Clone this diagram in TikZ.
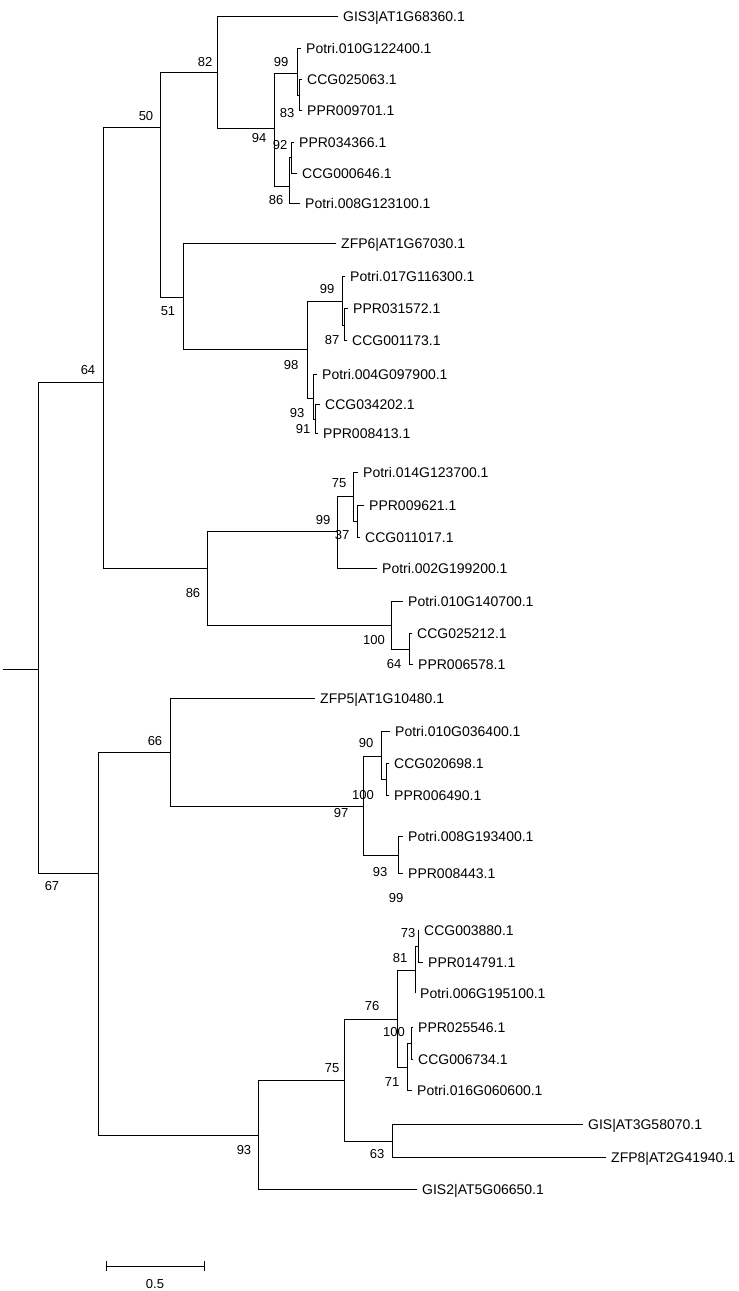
\documentclass[tikz,border=0pt]{standalone}
\usepackage{fontspec}
\setmainfont{Liberation Sans}
\begin{document}
\begin{tikzpicture}[x=1pt,y=-1pt,
  br/.style={line width=0.9pt,line cap=rect},
  leaf/.style={anchor=west,inner xsep=5pt,inner ysep=0pt,font=\fontsize{14}{16}\selectfont,text height=10pt,text depth=0pt},
  bs/.style={inner sep=0pt,font=\fontsize{13}{15}\selectfont}]
\useasboundingbox (0,0) rectangle (739,1291);
% internal nodes
\coordinate (r0) at (3,669);
\coordinate (r) at (38,669);
\coordinate (n64) at (103,382);
\coordinate (n50) at (160,127);
\coordinate (n82) at (217,72);
\coordinate (n94) at (274,128);
\coordinate (n99a) at (297,73);
\coordinate (n83) at (299,95);
\coordinate (n86b) at (289,186);
\coordinate (n92) at (291,157);
\coordinate (n51) at (183,297);
\coordinate (n98) at (307,349);
\coordinate (n99b) at (342,301);
\coordinate (n87) at (344,325);
\coordinate (n93b) at (313,398);
\coordinate (n91) at (315,419);
\coordinate (n86) at (207,568);
\coordinate (n99c) at (337,531);
\coordinate (n75a) at (353,496);
\coordinate (n37) at (357,521);
\coordinate (n100a) at (391,625);
\coordinate (n64b) at (409,649);
\coordinate (n67) at (98,873);
\coordinate (n66) at (170,752);
\coordinate (n97) at (363,806);
\coordinate (n90) at (381,756);
\coordinate (n100b) at (386,779);
\coordinate (n93c) at (398,855);
\coordinate (n93d) at (258,1135);
\coordinate (n75b) at (344,1080);
\coordinate (n76) at (397,1019);
\coordinate (n81) at (415,970);
\coordinate (n73) at (418,946);
\coordinate (n71) at (407,1067);
\coordinate (n100c) at (411,1043);
\coordinate (n63) at (392,1141);
% leaves
\node[leaf] (L1) at (338,16) {GIS3|AT1G68360.1};
\node[leaf] (L2) at (301,48) {Potri.010G122400.1};
\node[leaf] (L3) at (302,79) {CCG025063.1};
\node[leaf] (L4) at (302,110) {PPR009701.1};
\node[leaf] (L5) at (294,142) {PPR034366.1};
\node[leaf] (L6) at (297,173) {CCG000646.1};
\node[leaf] (L7) at (300,203) {Potri.008G123100.1};
\node[leaf] (L8) at (336,243) {ZFP6|AT1G67030.1};
\node[leaf] (L9) at (345,276) {Potri.017G116300.1};
\node[leaf] (L10) at (348,308) {PPR031572.1};
\node[leaf] (L11) at (347,340) {CCG001173.1};
\node[leaf] (L12) at (317,374) {Potri.004G097900.1};
\node[leaf] (L13) at (320,404) {CCG034202.1};
\node[leaf] (L14) at (318,433) {PPR008413.1};
\node[leaf] (L15) at (358,472) {Potri.014G123700.1};
\node[leaf] (L16) at (364,505) {PPR009621.1};
\node[leaf] (L17) at (360,537) {CCG011017.1};
\node[leaf] (L18) at (377,568) {Potri.002G199200.1};
\node[leaf] (L19) at (403,601) {Potri.010G140700.1};
\node[leaf] (L20) at (412,633) {CCG025212.1};
\node[leaf] (L21) at (413,664) {PPR006578.1};
\node[leaf] (L22) at (315,698) {ZFP5|AT1G10480.1};
\node[leaf] (L23) at (390,731) {Potri.010G036400.1};
\node[leaf] (L24) at (389,763) {CCG020698.1};
\node[leaf] (L25) at (389,795) {PPR006490.1};
\node[leaf] (L26) at (403,836) {Potri.008G193400.1};
\node[leaf] (L27) at (403,873) {PPR008443.1};
\node[leaf] (L28) at (419,930) {CCG003880.1};
\node[leaf] (L29) at (423,962) {PPR014791.1};
\node[leaf] (L30) at (415,993) {Potri.006G195100.1};
\node[leaf] (L31) at (413,1027) {PPR025546.1};
\node[leaf] (L32) at (413,1059) {CCG006734.1};
\node[leaf] (L33) at (412,1090) {Potri.016G060600.1};
\node[leaf] (L34) at (583,1124) {GIS|AT3G58070.1};
\node[leaf] (L35) at (606,1157) {ZFP8|AT2G41940.1};
\node[leaf] (L36) at (417,1189) {GIS2|AT5G06650.1};
% branches
\draw[br] (r0) -- (r);
\foreach \a/\b in {r/n64,r/n67,n64/n50,n64/n86,n50/n82,n50/n51,n82/L1.west,n82/n94,
  n94/n99a,n94/n86b,n99a/L2.west,n99a/n83,n83/L3.west,n83/L4.west,
  n86b/n92,n86b/L7.west,n92/L5.west,n92/L6.west,
  n51/L8.west,n51/n98,n98/n99b,n98/n93b,n99b/L9.west,n99b/n87,n87/L10.west,n87/L11.west,
  n93b/L12.west,n93b/n91,n91/L13.west,n91/L14.west,
  n86/n99c,n86/n100a,n99c/n75a,n99c/L18.west,n75a/L15.west,n75a/n37,n37/L16.west,n37/L17.west,
  n100a/L19.west,n100a/n64b,n64b/L20.west,n64b/L21.west,
  n67/n66,n67/n93d,n66/L22.west,n66/n97,n97/n90,n97/n93c,
  n90/L23.west,n90/n100b,n100b/L24.west,n100b/L25.west,n93c/L26.west,n93c/L27.west,
  n93d/n75b,n93d/L36.west,n75b/n76,n75b/n63,n76/n81,n76/n71,
  n81/n73,n81/L30.west,n73/L28.west,n73/L29.west,
  n71/n100c,n71/L33.west,n100c/L31.west,n100c/L32.west,n63/L34.west,n63/L35.west}
  \draw[br] (\a) |- (\b);
% bootstrap values
\node[bs] (b82) at (205,62) {82};
\node[bs] (b99a) at (281,62) {99};
\node[bs] (b83) at (287,113) {83};
\node[bs] (b94) at (259,138) {94};
\node[bs] (b92) at (280,145) {92};
\node[bs] (b86b) at (276,200) {86};
\node[bs] (b50) at (146,116) {50};
\node[bs] (b51) at (168,311) {51};
\node[bs] (b99b) at (327,289) {99};
\node[bs] (b87) at (332,340) {87};
\node[bs] (b98) at (291,365) {98};
\node[bs] (b93b) at (297,413) {93};
\node[bs] (b91) at (303,429) {91};
\node[bs] (b64) at (88,370) {64};
\node[bs] (b75a) at (339,483) {75};
\node[bs] (b99c) at (323,520) {99};
\node[bs] (b37) at (342,535) {37};
\node[bs] (b86) at (193,593) {86};
\node[bs] (b100a) at (374,640) {100};
\node[bs] (b64b) at (394,664) {64};
\node[bs] (b66) at (155,741) {66};
\node[bs] (b90) at (366,743) {90};
\node[bs] (b100b) at (363,795) {100};
\node[bs] (b97) at (341,813) {97};
\node[bs] (b93c) at (380,872) {93};
\node[bs] (b99d) at (396,898) {99};
\node[bs] (b67) at (52,886) {67};
\node[bs] (b73) at (408,933) {73};
\node[bs] (b81) at (400,958) {81};
\node[bs] (b76) at (372,1006) {76};
\node[bs] (b100c) at (394,1032) {100};
\node[bs] (b75b) at (332,1068) {75};
\node[bs] (b71) at (392,1082) {71};
\node[bs] (b63) at (377,1154) {63};
\node[bs] (b93d) at (244,1150) {93};
% scale bar
\coordinate (s1) at (106,1266);
\coordinate (s2) at (204,1266);
\draw[br] (s1) -- (s2);
\draw[br] ([yshift=5pt]s1) -- ([yshift=-5pt]s1);
\draw[br] ([yshift=5pt]s2) -- ([yshift=-5pt]s2);
\node[bs] (sl) at (155,1284) {0.5};
\end{tikzpicture}
\end{document}
